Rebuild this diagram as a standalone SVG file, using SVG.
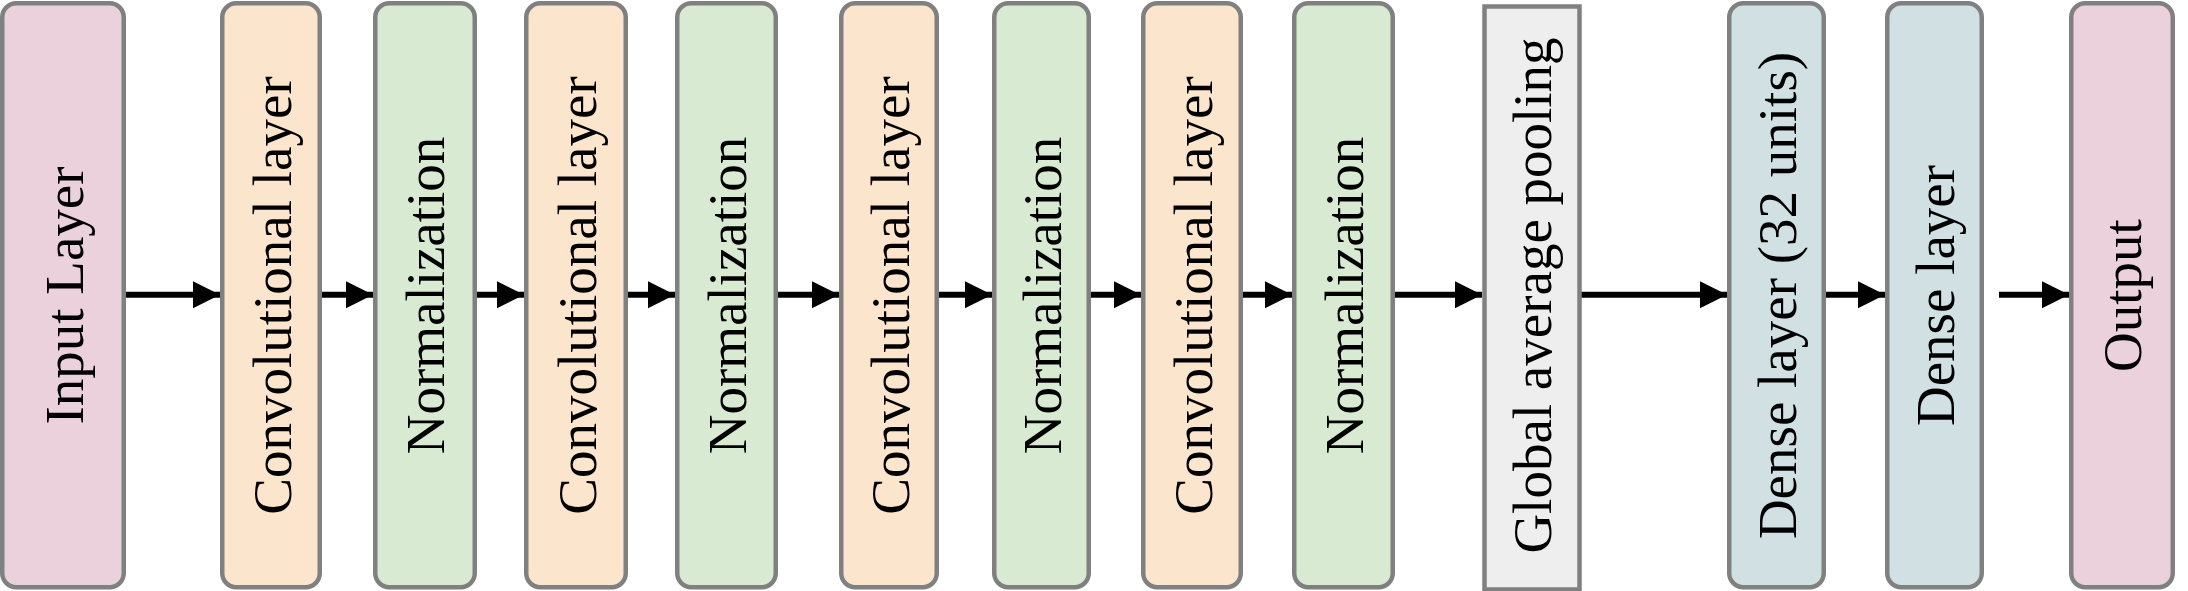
<svg xmlns="http://www.w3.org/2000/svg" width="2188" height="591" viewBox="0 0 2188 591">
<style>
.box{stroke:#808080;stroke-width:4.5}
.pink{fill:#EAD1DC}
.orange{fill:#FCE5CD}
.green{fill:#D9EAD3}
.gray{fill:#EEEEEE}
.blue{fill:#D0E0E3}
.lbl{font-family:"Liberation Serif","Times New Roman",serif;font-size:55px;fill:#000;text-anchor:middle}
.conn{stroke:#000;stroke-width:6;fill:none;marker-end:url(#ah)}
</style>
<defs>
<marker id="ah" markerUnits="userSpaceOnUse" markerWidth="28" markerHeight="28" refX="27" refY="13.5" orient="auto">
<path d="M0,0 L27,13.5 L0,27 Z" fill="#000"/>
</marker>
</defs>
<rect width="2188" height="591" fill="#fff"/>
<g id="connectors">
<line class="conn" x1="124" y1="294.7" x2="220" y2="294.7"/>
<line class="conn" x1="320" y1="294.7" x2="373" y2="294.7"/>
<line class="conn" x1="475" y1="294.7" x2="524" y2="294.7"/>
<line class="conn" x1="626" y1="294.7" x2="675" y2="294.7"/>
<line class="conn" x1="776" y1="294.7" x2="839" y2="294.7"/>
<line class="conn" x1="936" y1="294.7" x2="992" y2="294.7"/>
<line class="conn" x1="1089" y1="294.7" x2="1141" y2="294.7"/>
<line class="conn" x1="1241" y1="294.7" x2="1292" y2="294.7"/>
<line class="conn" x1="1393" y1="294.7" x2="1482" y2="294.7"/>
<line class="conn" x1="1580" y1="294.7" x2="1727" y2="294.7"/>
<line class="conn" x1="1824" y1="294.7" x2="1885" y2="294.7"/>
<line class="conn" x1="1999" y1="294.7" x2="2069" y2="294.7"/>
</g>
<g id="input">
<rect class="box pink" x="2.25" y="3.25" width="121.5" height="584" rx="14"/>
<text class="lbl" transform="translate(64,295.5) rotate(-90)" y="19">Input Layer</text>
</g>
<g id="conv1">
<rect class="box orange" x="222.25" y="3.25" width="97.5" height="584" rx="14"/>
<text class="lbl" transform="translate(271,295.5) rotate(-90)" y="20">Convolutional layer</text>
</g>
<g id="norm1">
<rect class="box green" x="375.25" y="3.25" width="99.5" height="584" rx="14"/>
<text class="lbl" transform="translate(425,295.5) rotate(-90)" y="19">Normalization</text>
</g>
<g id="conv2">
<rect class="box orange" x="526.25" y="3.25" width="99.5" height="584" rx="14"/>
<text class="lbl" transform="translate(576,295.5) rotate(-90)" y="20">Convolutional layer</text>
</g>
<g id="norm2">
<rect class="box green" x="677.25" y="3.25" width="98.5" height="584" rx="14"/>
<text class="lbl" transform="translate(726.5,295.5) rotate(-90)" y="19">Normalization</text>
</g>
<g id="conv3">
<rect class="box orange" x="841.25" y="3.25" width="95.5" height="584" rx="14"/>
<text class="lbl" transform="translate(889,295.5) rotate(-90)" y="20">Convolutional layer</text>
</g>
<g id="norm3">
<rect class="box green" x="994.25" y="3.25" width="94.5" height="584" rx="14"/>
<text class="lbl" transform="translate(1041.5,295.5) rotate(-90)" y="19">Normalization</text>
</g>
<g id="conv4">
<rect class="box orange" x="1143.25" y="3.25" width="97.5" height="584" rx="14"/>
<text class="lbl" transform="translate(1192,295.5) rotate(-90)" y="20">Convolutional layer</text>
</g>
<g id="norm4">
<rect class="box green" x="1294.25" y="3.25" width="98.5" height="584" rx="14"/>
<text class="lbl" transform="translate(1343.5,295.5) rotate(-90)" y="19">Normalization</text>
</g>
<g id="gap">
<rect class="box gray" x="1484.5" y="6.5" width="95" height="583"/>
<text class="lbl" transform="translate(1532,295.5) rotate(-90)" y="19">Global average pooling</text>
</g>
<g id="dense1">
<rect class="box blue" x="1729.25" y="3.25" width="94.5" height="584" rx="14"/>
<text class="lbl" transform="translate(1776.5,295.5) rotate(-90)" y="19">Dense layer (32 units)</text>
</g>
<g id="dense2">
<rect class="box blue" x="1887.25" y="3.25" width="94.5" height="584" rx="14"/>
<text class="lbl" transform="translate(1934.5,295.5) rotate(-90)" y="19">Dense layer</text>
</g>
<g id="output">
<rect class="box pink" x="2071.25" y="3.25" width="101.5" height="584" rx="14"/>
<text class="lbl" transform="translate(2122,295.5) rotate(-90)" y="19">Output</text>
</g>
</svg>
